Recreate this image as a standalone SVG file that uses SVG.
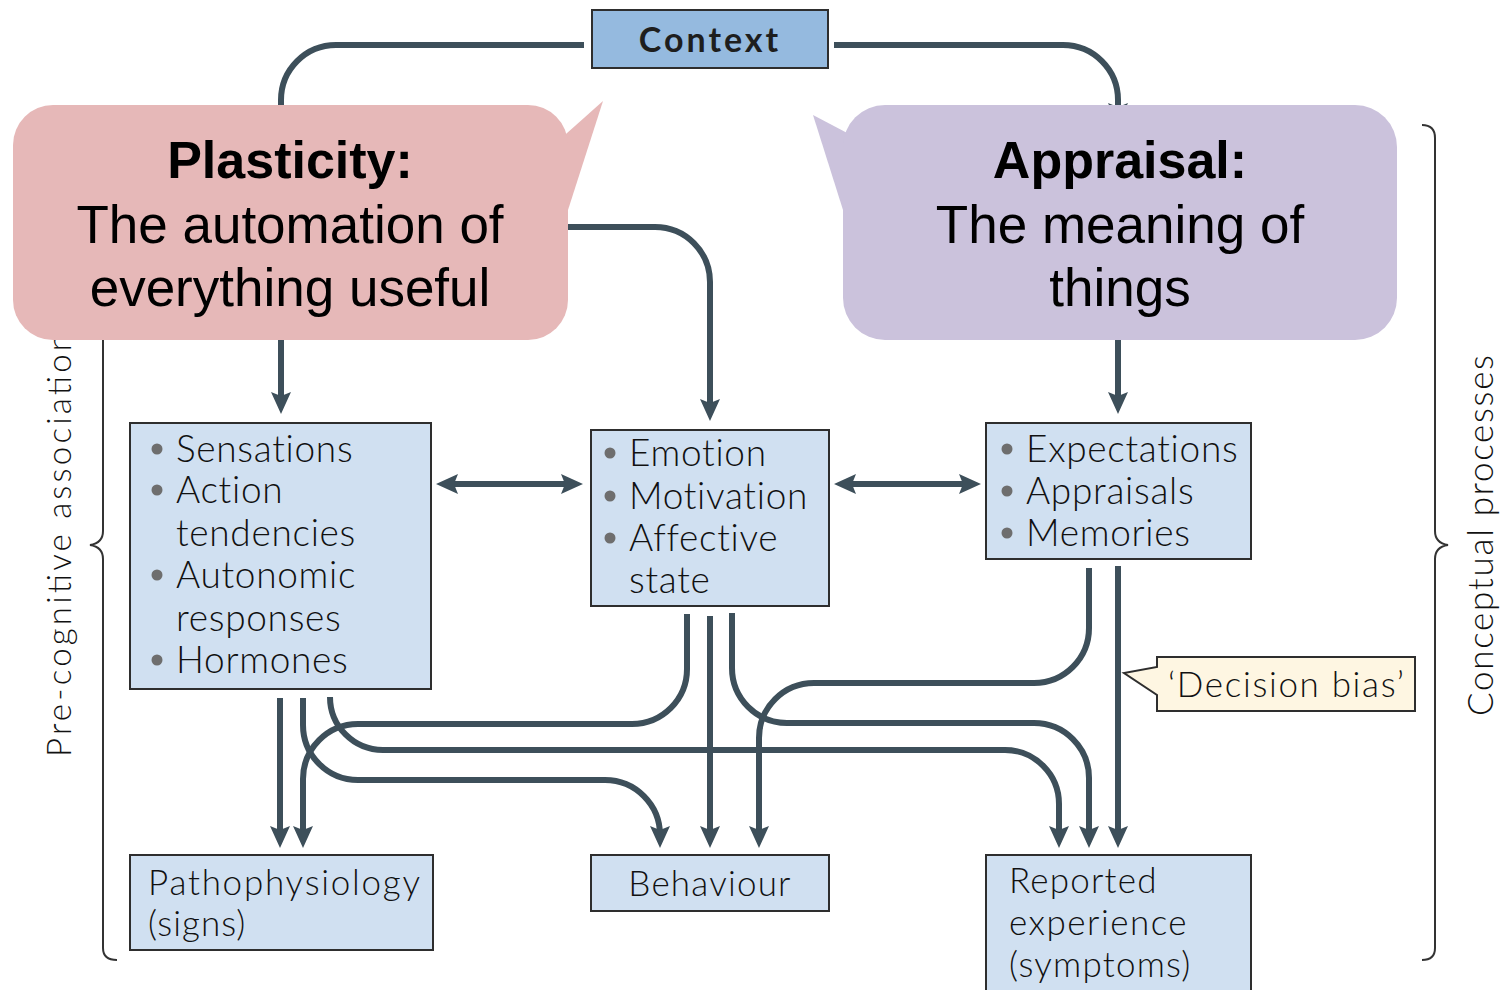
<svg xmlns="http://www.w3.org/2000/svg" width="1505" height="990" viewBox="0 0 1505 990">
<style>
.box{fill:#d0e0f1;stroke:#2e2e2e;stroke-width:2}
.t{font-family:Lato,"Open Sans","DejaVu Sans",sans-serif;font-size:37px;font-weight:300;fill:#111}
.n{letter-spacing:0.7px}
.b{fill:#6e6e6e}
.big{font-family:"Liberation Sans",Arial,sans-serif;font-size:53px;fill:#000;text-anchor:middle}
.bold{font-weight:bold;font-size:52px}
.con{fill:none;stroke:#3d4f5a;stroke-width:6}
.brace{fill:none;stroke:#333;stroke-width:2}
</style>
<defs>
<marker id="ah" viewBox="0 0 22 20" markerWidth="22" markerHeight="20" refX="14" refY="10" orient="auto-start-reverse" markerUnits="userSpaceOnUse">
<path d="M0,0 L22,10 L0,20 L4,10 Z" fill="#3d4f5a"/>
</marker>
</defs>

<g id="braces">
<path class="brace" d="M103,330 V531 Q103,543 90,545 Q103,547 103,559 V948 Q103,960 117,960"/>
<path class="brace" d="M1422,125 Q1435,125 1435,138 V531 Q1435,543 1448,545 Q1435,547 1435,559 V948 Q1435,960 1422,960"/>
<text class="t" transform="translate(71,757) rotate(-90)" style="font-size:33px" textLength="424" lengthAdjust="spacing">Pre-cognitive association</text>
<text class="t" transform="translate(1493,716) rotate(-90)" style="font-size:35px" textLength="361" lengthAdjust="spacing">Conceptual processes</text>
</g>

<g id="connectors">
<path class="con" d="M584,45 H336 A55,55 0 0 0 281,100 V112"/>
<path class="con" d="M834,45 H1063 A55,55 0 0 1 1118,100 V117" marker-end="url(#ah)"/>
<path class="con" d="M281,340 V406" marker-end="url(#ah)"/>
<path class="con" d="M568,227 H655 A55,55 0 0 1 710,282 V413" marker-end="url(#ah)"/>
<path class="con" d="M1118,340 V406" marker-end="url(#ah)"/>
<path class="con" d="M444,484 H575" marker-start="url(#ah)" marker-end="url(#ah)"/>
<path class="con" d="M842,484 H973" marker-start="url(#ah)" marker-end="url(#ah)"/>
<path class="con" d="M280,698 V840" marker-end="url(#ah)"/>
<path class="con" d="M303,698 V725 A55,55 0 0 0 358,780 H605 A55,55 0 0 1 660,835 V840" marker-end="url(#ah)"/>
<path class="con" d="M330,697 A53,53 0 0 0 383,750 H1005 A54,54 0 0 1 1059,804 V840" marker-end="url(#ah)"/>
<path class="con" d="M687,614 V669 A55,55 0 0 1 632,724 H358 A55,55 0 0 0 303,779 V840" marker-end="url(#ah)"/>
<path class="con" d="M710,616 V840" marker-end="url(#ah)"/>
<path class="con" d="M732,613 V668 A55,55 0 0 0 787,723 H1034 A55,55 0 0 1 1089,778 V840" marker-end="url(#ah)"/>
<path class="con" d="M1089,568 V628 A55,55 0 0 1 1034,683 H814 A55,55 0 0 0 759,738 V840" marker-end="url(#ah)"/>
<path class="con" d="M1118,566 V840" marker-end="url(#ah)"/>
</g>

<g id="context">
<rect x="592" y="10" width="236" height="58" fill="#95badf" stroke="#2e2e2e" stroke-width="2"/>
<text x="710" y="52" text-anchor="middle" style="font-family:Lato,'Open Sans',sans-serif;font-size:34px;font-weight:bold;letter-spacing:3px;fill:#1e1e1e">Context</text>
</g>

<g id="plasticity">
<polygon points="603,101 548,150 568,210" fill="#e6b8b8"/>
<rect x="13" y="105" width="555" height="235" rx="40" fill="#e6b8b8"/>
<text class="big bold" x="290" y="178">Plasticity:</text>
<text class="big" x="290" y="243">The automation of</text>
<text class="big" x="290" y="306">everything useful</text>
</g>

<g id="appraisal">
<polygon points="813,115 870,145 843,210" fill="#cbc2dc"/>
<rect x="843" y="105" width="554" height="235" rx="42" fill="#cbc2dc"/>
<text class="big bold" x="1120" y="178">Appraisal:</text>
<text class="big" x="1120" y="243">The meaning of</text>
<text class="big" x="1120" y="306">things</text>
</g>

<g id="sensations">
<rect class="box" x="130" y="423" width="301" height="266"/>
<circle class="b" cx="157" cy="449" r="5.5"/>
<circle class="b" cx="157" cy="490" r="5.5"/>
<circle class="b" cx="157" cy="575" r="5.5"/>
<circle class="b" cx="157" cy="660" r="5.5"/>
<text class="t n" x="176" y="462">Sensations</text>
<text class="t n" x="176" y="503">Action</text>
<text class="t n" x="176" y="546">tendencies</text>
<text class="t n" x="176" y="588">Autonomic</text>
<text class="t n" x="176" y="631">responses</text>
<text class="t n" x="176" y="673">Hormones</text>
</g>

<g id="emotion">
<rect class="box" x="591" y="430" width="238" height="176"/>
<circle class="b" cx="610" cy="453" r="5.5"/>
<circle class="b" cx="610" cy="496" r="5.5"/>
<circle class="b" cx="610" cy="538" r="5.5"/>
<text class="t n" x="629" y="466">Emotion</text>
<text class="t n" x="629" y="509">Motivation</text>
<text class="t n" x="629" y="551">Affective</text>
<text class="t n" x="629" y="593">state</text>
</g>

<g id="expectations">
<rect class="box" x="986" y="423" width="265" height="136"/>
<circle class="b" cx="1007" cy="449" r="5.5"/>
<circle class="b" cx="1007" cy="491" r="5.5"/>
<circle class="b" cx="1007" cy="533" r="5.5"/>
<text class="t n" x="1026" y="462">Expectations</text>
<text class="t n" x="1026" y="504">Appraisals</text>
<text class="t n" x="1026" y="546">Memories</text>
</g>

<g id="pathophysiology">
<rect class="box" x="130" y="855" width="303" height="95"/>
<text class="t" x="148" y="895" style="font-size:35px" textLength="272" lengthAdjust="spacing">Pathophysiology</text>
<text class="t" x="148" y="936" style="font-size:35px;letter-spacing:1px">(signs)</text>
</g>

<g id="behaviour">
<rect class="box" x="591" y="855" width="238" height="56"/>
<text class="t" x="710" y="896" text-anchor="middle" style="font-size:35px;letter-spacing:1.2px">Behaviour</text>
</g>

<g id="reported">
<rect class="box" x="986" y="855" width="265" height="140"/>
<text class="t" x="1009" y="893" style="font-size:35px;letter-spacing:1.2px">Reported</text>
<text class="t" x="1009" y="935" style="font-size:35px;letter-spacing:1.5px">experience</text>
<text class="t" x="1009" y="977" style="font-size:35px;letter-spacing:1.2px">(symptoms)</text>
</g>

<g id="decision-bias">
<path d="M1157,657 H1415 V711 H1157 V695 L1124,673 L1157,667 Z" fill="#fef6e2" stroke="#2e2e2e" stroke-width="2"/>
<text class="t" x="1168" y="697" style="font-size:35px" textLength="236" lengthAdjust="spacing">‘Decision bias’</text>
</g>
</svg>
